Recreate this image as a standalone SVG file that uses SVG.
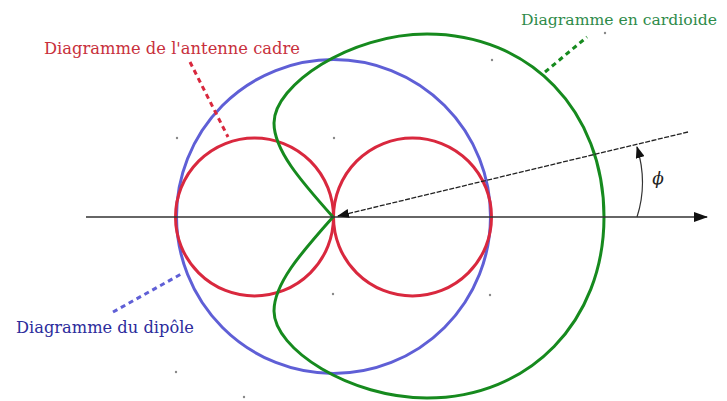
<svg xmlns="http://www.w3.org/2000/svg" width="727" height="401" viewBox="0 0 727 401">
<defs>
<style>
.curve{fill:none;stroke-width:3}
.ptr{fill:none;stroke-width:3;stroke-dasharray:5 4}
.dot{fill:#888}
.lbl{font-family:"DejaVu Serif","Liberation Serif",serif;font-size:17px}
</style>
<marker id="ah" viewBox="0 0 14 10" refX="13" refY="5" markerWidth="14" markerHeight="10" markerUnits="userSpaceOnUse" orient="auto">
<path d="M0,0 L14,5 L0,10 Z" fill="#111"/>
</marker>
<marker id="ahs" viewBox="0 0 12 9" refX="11" refY="4.5" markerWidth="12" markerHeight="9" markerUnits="userSpaceOnUse" orient="auto">
<path d="M0,0 L12,4.5 L0,9 Z" fill="#111"/>
</marker>
</defs>
<rect width="727" height="401" fill="#fff"/>

<g id="grid-dots">
<circle class="dot" cx="177" cy="138" r="1.2"/>
<circle class="dot" cx="334" cy="138" r="1.2"/>
<circle class="dot" cx="492" cy="60" r="1.2"/>
<circle class="dot" cx="605" cy="33" r="1.2"/>
<circle class="dot" cx="333" cy="294" r="1.2"/>
<circle class="dot" cx="490" cy="295" r="1.2"/>
<circle class="dot" cx="176" cy="372" r="1.2"/>
<circle class="dot" cx="244" cy="397" r="1.2"/>
</g>

<g id="dipole">
<circle class="curve" cx="333.5" cy="216.5" r="157" stroke="#5f5fd6"/>
</g>

<g id="cadre">
<circle class="curve" cx="254.5" cy="217" r="79" stroke="#d9283e"/>
<circle class="curve" cx="412.5" cy="217" r="79" stroke="#d9283e"/>
</g>

<g id="cardioide">
<path class="curve" stroke="#168a1e" d="M333,217 C300,180 274,150 274,123 C274,85 350,34 427,34 C530,34 604,111 604,217 C604,321 530,398 427,398 C350,398 274,349 274,311 C274,284 300,254 333,217 Z"/>
</g>

<g id="connectors">
<line x1="86" y1="217" x2="707" y2="217" stroke="#333" stroke-width="1.5" marker-end="url(#ah)"/>
<line x1="688" y1="132" x2="338" y2="216" stroke="#222" stroke-width="1.3" stroke-dasharray="5 1.5" marker-end="url(#ahs)"/>
<path d="M637,217 Q648,183 637,147" fill="none" stroke="#333" stroke-width="1.2" marker-end="url(#ahs)"/>
<line class="ptr" x1="190" y1="62" x2="228" y2="137" stroke="#d9283e"/>
<line class="ptr" x1="545" y1="72" x2="587" y2="37" stroke="#168a1e"/>
<line class="ptr" x1="113" y1="312" x2="183" y2="273" stroke="#5f5fd6"/>
</g>

<g id="labels">
<text class="lbl" x="44" y="54" fill="#c8303c" textLength="256" lengthAdjust="spacingAndGlyphs">Diagramme de l'antenne cadre</text>
<text class="lbl" x="521" y="25" fill="#2e8b4a" font-size="15" style="font-size:15px" textLength="196" lengthAdjust="spacingAndGlyphs">Diagramme en cardioide</text>
<text class="lbl" x="16" y="333" fill="#2c2c9c" textLength="178" lengthAdjust="spacingAndGlyphs">Diagramme du dipôle</text>
<text class="lbl" x="658" y="184" font-style="italic" fill="#222" text-anchor="middle">ϕ</text>
</g>
</svg>
